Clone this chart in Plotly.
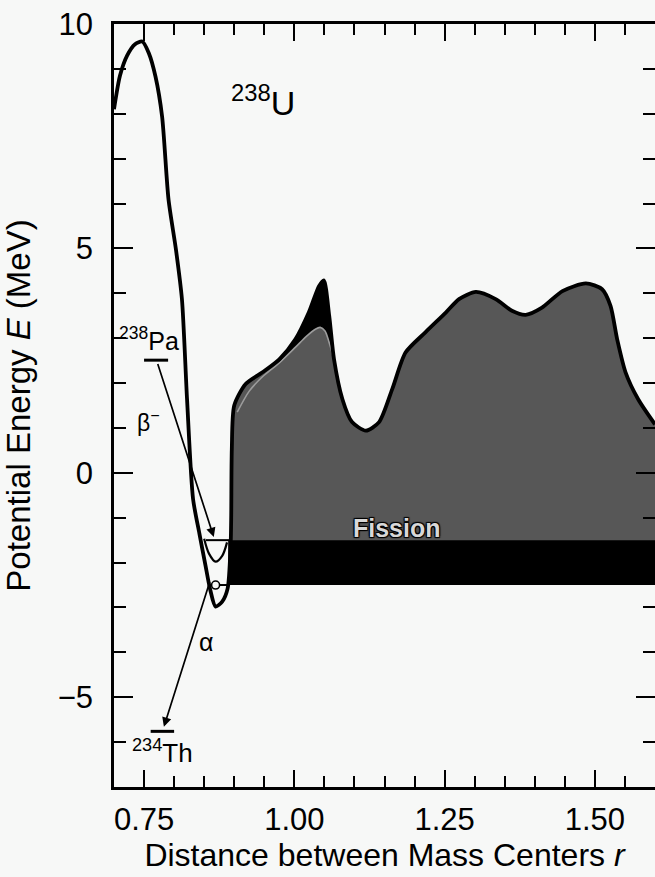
import plotly.graph_objects as go

# ---- data ----
# left wall / potential well part of the thick curve (r, MeV)
well_r = [0.700, 0.710, 0.722, 0.735, 0.747, 0.758, 0.769, 0.780, 0.7907, 0.803, 0.813,
          0.8215, 0.8315, 0.842, 0.852, 0.860, 0.869, 0.880]
well_E = [8.10, 8.85, 9.30, 9.55, 9.61, 9.35, 8.83, 7.94, 6.09, 4.98, 3.87,
          1.64, -0.58, -1.35, -2.05, -2.60, -2.98, -2.87]

# fission barrier part of the thick curve
barrier_r = [0.889, 0.894, 0.895, 0.896, 0.900, 0.919, 0.947, 0.975, 1.002, 1.024, 1.041,
             1.049, 1.058, 1.066, 1.080, 1.096, 1.119, 1.141, 1.163, 1.185, 1.218,
             1.252, 1.274, 1.302, 1.335, 1.362, 1.385, 1.412, 1.446, 1.485, 1.512,
             1.526, 1.537, 1.551, 1.572, 1.600]
barrier_E = [-2.58, -1.62, -0.95, 0.53, 1.50, 1.98, 2.24, 2.53, 2.98, 3.57, 4.16,
             4.29, 3.50, 2.53, 1.64, 1.13, 0.94, 1.13, 1.87, 2.68, 3.13,
             3.57, 3.87, 4.03, 3.87, 3.61, 3.52, 3.68, 4.05, 4.22, 4.09,
             3.72, 2.98, 2.24, 1.64, 1.08]

# inner (lower) barrier curve near the first peak
inner_r = [0.905, 0.925, 0.947, 0.975, 1.002, 1.020, 1.035, 1.043, 1.051, 1.058, 1.066]
inner_E = [1.35, 1.82, 2.14, 2.45, 2.80, 3.04, 3.20, 3.24, 3.16, 2.90, 2.53]

# upper (shallower) well
upper_well_r = [0.850, 0.858, 0.869, 0.880, 0.888]
upper_well_E = [-1.47, -1.80, -1.98, -1.85, -1.55]

# fission channel band
band_E = [-2.5, -1.5]
band_r = [0.890, 1.600]

# ground-state levels in the wells
ground_E = [-1.5, -2.5]
ground_r0 = [0.853, 0.862]
ground_r1 = [0.893, 0.890]
alpha_origin = (0.869, -2.5)

# nuclide levels
level_names = ["<sup>238</sup>Pa", "<sup>234</sup>Th"]
level_E = [2.51, -5.76]
level_r0 = [0.750, 0.761]
level_r1 = [0.790, 0.800]

# decay arrows (start -> end)
beta_start = (0.772, 2.46)
beta_end = (0.866, -1.43)
alpha_start = (0.860, -2.40)
alpha_end = (0.783, -5.66)

FONT = "Liberation Sans, Arial, Helvetica, sans-serif"
BG = "#f7f8f7"
GRAY = "#575757"

fig = go.Figure()

# gray fill under barrier (closed along the bottom of the fission band)
fig.add_trace(go.Scatter(
    x=barrier_r + [band_r[1], band_r[1], barrier_r[0]],
    y=barrier_E + [barrier_E[-1] - 1.0, band_E[0], band_E[0]],
    mode="lines", fill="toself", fillcolor=GRAY,
    line=dict(width=0), hoverinfo="skip"))

# black fission band
fig.add_trace(go.Scatter(
    x=[band_r[0], band_r[1], band_r[1], band_r[0]],
    y=[band_E[0], band_E[0], band_E[1], band_E[1]],
    mode="lines", fill="toself", fillcolor="black",
    line=dict(width=0), hoverinfo="skip"))

# black region between barrier and inner curve
top = [(r, e) for r, e in zip(barrier_r, barrier_E) if inner_r[3] <= r <= inner_r[-1]]
bx = [p[0] for p in top] + inner_r[3:][::-1]
by = [p[1] for p in top] + inner_E[3:][::-1]
fig.add_trace(go.Scatter(x=bx, y=by, mode="lines", fill="toself", fillcolor="black",
                         line=dict(width=0, shape="spline", smoothing=0.6), hoverinfo="skip"))

# inner curve
fig.add_trace(go.Scatter(x=inner_r, y=inner_E, mode="lines",
                         line=dict(color="#9c9c9c", width=1.6, shape="spline", smoothing=0.8)))

# thick potential curve
fig.add_trace(go.Scatter(x=well_r + barrier_r, y=well_E + barrier_E, mode="lines",
                         line=dict(color="black", width=3.8, shape="spline", smoothing=0.7)))

# upper well
fig.add_trace(go.Scatter(x=upper_well_r, y=upper_well_E, mode="lines",
                         line=dict(color="black", width=2.2, shape="spline", smoothing=0.9)))

# ground levels
for e, r0, r1 in zip(ground_E, ground_r0, ground_r1):
    fig.add_trace(go.Scatter(x=[r0, r1], y=[e, e], mode="lines",
                             line=dict(color="black", width=2)))

fig.add_trace(go.Scatter(x=[alpha_origin[0]], y=[alpha_origin[1]], mode="markers",
                         marker=dict(symbol="circle", size=8, color=BG,
                                     line=dict(color="black", width=1.6))))

# nuclide levels
for e, r0, r1 in zip(level_E, level_r0, level_r1):
    fig.add_trace(go.Scatter(x=[r0, r1], y=[e, e], mode="lines",
                             line=dict(color="black", width=3)))

# arrows
for s, t in [(beta_start, beta_end), (alpha_start, alpha_end)]:
    fig.add_annotation(x=t[0], y=t[1], ax=s[0], ay=s[1], xref="x", yref="y",
                       axref="x", ayref="y", text="", showarrow=True,
                       arrowhead=2, arrowsize=1.1, arrowwidth=1.7, arrowcolor="black",
                       standoff=0, startstandoff=0)

def label(text, x, y, size, **kw):
    fig.add_annotation(x=x, y=y, xref="x", yref="y", text=text, showarrow=False,
                       font=dict(family=FONT, size=size, color=kw.pop("color", "black"),
                                 **kw.pop("fontkw", {})), **kw)

label("<sup>238</sup>U", 0.948, 8.3, 34)
label(level_names[0], 0.758, 2.98, 25)
label("β<sup>−</sup>", 0.758, 1.16, 23)
label("α", 0.853, -3.76, 25)
label(level_names[1], 0.780, -6.22, 26)
label("<b>Fission</b>", 1.171, -1.24, 25, color="#d8d8d8",
      fontkw=dict(shadow="1px 1px 1px #000, -1px -1px 1px #000, 1px -1px 1px #000, -1px 1px 1px #000"))

axis_common = dict(showline=True, linecolor="black", linewidth=2.5, mirror="ticks",
                   ticks="inside", tickcolor="black", tickwidth=2,
                   showgrid=False, zeroline=False,
                   tickfont=dict(family=FONT, size=31, color="black"))

fig.update_xaxes(range=[0.70, 1.60], tickmode="linear", tick0=0.75, dtick=0.25,
                 tickformat=".2f", ticklen=17, ticklabelstandoff=3,
                 minor=dict(ticks="inside", tick0=0.75, dtick=0.05, ticklen=11,
                            tickwidth=2, tickcolor="black", showgrid=False),
                 title=dict(text="Distance between Mass Centers <i>r</i>",
                            font=dict(family=FONT, size=32, color="black"), standoff=8),
                 **axis_common)
fig.update_yaxes(range=[-7, 10], tickmode="linear", tick0=0, dtick=5,
                 ticklen=19, ticklabelstandoff=12,
                 minor=dict(ticks="inside", tick0=0, dtick=1, ticklen=12,
                            tickwidth=2, tickcolor="black", showgrid=False),
                 title=dict(text="Potential Energy <i>E</i> (MeV)",
                            font=dict(family=FONT, size=33, color="black"), standoff=18),
                 **axis_common)

fig.update_layout(width=655, height=877, showlegend=False,
                  margin=dict(l=114, r=0, t=24, b=90, autoexpand=False),
                  paper_bgcolor=BG, plot_bgcolor=BG)

fig.write_html("out.html")
